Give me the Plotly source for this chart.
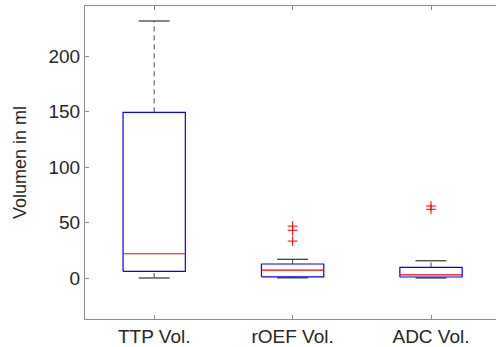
import plotly.graph_objects as go

# Volume statistics per perfusion/diffusion parameter (ml)
categories = ["TTP Vol.", "rOEF Vol.", "ADC Vol."]
lower_whisker = [0.3, 0.4, 0.3]
q1 = [6.3, 1.3, 1.2]
median = [22.1, 7.3, 3.1]
q3 = [149.3, 12.9, 9.9]
upper_whisker = [231.5, 17.1, 15.8]
outliers = [[], [47.0, 43.2, 33.5], [65.0, 62.1]]

y_ticks = [0, 50, 100, 150, 200]

BOX_HALF = 0.225
CAP_HALF = 0.112
BLUE = "#0000ff"
RED = "#ff0000"
WHISKER = "#4a4a4a"
AXIS = "#8c8c8c"
TEXT = "#262626"

fig = go.Figure()

for i, name in enumerate(categories):
    xc = i + 1
    # dashed whiskers
    fig.add_trace(go.Scatter(
        x=[xc, xc, None, xc, xc],
        y=[q3[i], upper_whisker[i], None, lower_whisker[i], q1[i]],
        mode="lines", line=dict(color=WHISKER, width=1, dash="5px,4px"),
        hoverinfo="skip", showlegend=False))
    # whisker caps
    fig.add_trace(go.Scatter(
        x=[xc - CAP_HALF, xc + CAP_HALF, None, xc - CAP_HALF, xc + CAP_HALF],
        y=[upper_whisker[i], upper_whisker[i], None, lower_whisker[i], lower_whisker[i]],
        mode="lines", line=dict(color="#333333", width=1.2),
        hoverinfo="skip", showlegend=False))
    # box
    fig.add_trace(go.Scatter(
        x=[xc - BOX_HALF, xc + BOX_HALF, xc + BOX_HALF, xc - BOX_HALF, xc - BOX_HALF],
        y=[q1[i], q1[i], q3[i], q3[i], q1[i]],
        mode="lines", line=dict(color=BLUE, width=1.2),
        name=name, showlegend=False))
    # median
    fig.add_trace(go.Scatter(
        x=[xc - BOX_HALF, xc + BOX_HALF],
        y=[median[i], median[i]],
        mode="lines", line=dict(color=RED, width=1.2),
        hoverinfo="skip", showlegend=False))
    # outliers
    if outliers[i]:
        fig.add_trace(go.Scatter(
            x=[xc] * len(outliers[i]), y=outliers[i], mode="markers",
            marker=dict(symbol="cross-thin", size=7,
                        line=dict(color=RED, width=1)),
            showlegend=False))

fig.update_layout(
    width=496, height=347,
    margin=dict(l=85, r=0, t=6, b=28),
    paper_bgcolor="white", plot_bgcolor="white",
    font=dict(family="Liberation Sans, Arial, sans-serif", size=19, color=TEXT),
)
fig.update_xaxes(
    range=[0.5, 0.5 + 411 / 138.4],
    tickmode="array", tickvals=[1, 2, 3], ticktext=categories,
    ticks="inside", ticklen=4, tickcolor=AXIS,
    showline=True, linecolor=AXIS, linewidth=1, mirror="ticks",
    showgrid=False, zeroline=False,
)
fig.update_yaxes(
    range=[-36.6, 245.0],
    tickmode="array", tickvals=y_ticks,
    ticks="inside", ticklen=4, tickcolor=AXIS,
    showline=True, linecolor=AXIS, linewidth=1,
    showgrid=False, zeroline=False,
    title=dict(text="Volumen in ml", font=dict(size=18), standoff=17),
)

fig.write_html("out.html")
